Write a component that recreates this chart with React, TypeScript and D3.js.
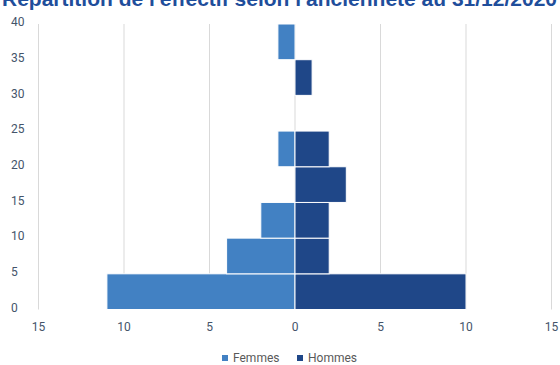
import React from "react";
import * as d3 from "d3";

// Seniority bands (lower bound, years) and headcount per band
const bandStarts = [0, 5, 10, 15, 20, 25, 30, 35];
const femmes = [11, 4, 2, 0, 1, 0, 0, 1];
const hommes = [10, 2, 2, 3, 2, 0, 1, 0];
const yTicks = [0, 5, 10, 15, 20, 25, 30, 35, 40];
const xTicks = [-15, -10, -5, 0, 5, 10, 15];
const seriesNames = ["Femmes", "Hommes"];
const seriesColors = ["#4281c3", "#1f4788"];
const title = "Répartition de l'effectif selon l'ancienneté au 31/12/2020";

const W = 560;
const H = 365;
const tickColor = "#44546a";
const font = "Roboto, 'Liberation Sans', sans-serif";

export default function App() {
  const x = d3.scaleLinear().domain([-15, 15]).range([38.5, 551.5]);
  const y = d3.scaleLinear().domain([0, 40]).range([309.5, 24]);
  const bandW = 5;

  const bars = bandStarts.flatMap((b, i) => [
    { key: `f${i}`, b, v: -femmes[i], color: seriesColors[0] },
    { key: `h${i}`, b, v: hommes[i], color: seriesColors[1] },
  ]).filter((d) => d.v !== 0);

  return (
    <svg
      width={W}
      height={H}
      style={{ position: "absolute", left: 0, top: 0, background: "#fff" }}
    >
      <text
        x={2}
        y={6}
        fontFamily="'Liberation Sans', Arial, sans-serif"
        fontWeight="bold"
        fontSize={21}
        fill="#1f4e9b"
      >
        {title}
      </text>

      {/* vertical gridlines */}
      {xTicks.map((t) => (
        <line
          key={`g${t}`}
          x1={x(t)}
          x2={x(t)}
          y1={y(40)}
          y2={y(0)}
          stroke="#d9d9d9"
          strokeWidth={1}
        />
      ))}

      {/* bars */}
      {bars.map((d) => (
        <rect
          key={d.key}
          x={Math.min(x(0), x(d.v))}
          width={Math.abs(x(d.v) - x(0))}
          y={y(d.b + bandW)}
          height={y(d.b) - y(d.b + bandW)}
          fill={d.color}
          stroke="#ffffff"
          strokeWidth={1}
        />
      ))}

      {/* y labels */}
      {yTicks.map((t) => (
        <text
          key={`y${t}`}
          x={11}
          y={y(t) - 2}
          dy="0.35em"
          fontFamily={font}
          fontSize={12}
          fill={tickColor}
        >
          {t}
        </text>
      ))}

      {/* x labels */}
      {xTicks.map((t) => (
        <text
          key={`x${t}`}
          x={x(t)}
          y={327}
          dy="0.35em"
          textAnchor="middle"
          fontFamily={font}
          fontSize={12}
          fill={tickColor}
        >
          {Math.abs(t)}
        </text>
      ))}

      {/* legend */}
      {seriesNames.map((name, i) => {
        const lx = 222 + i * 75;
        return (
          <g key={name}>
            <rect x={lx} y={355} width={6} height={6} fill={seriesColors[i]} />
            <text
              x={lx + 11}
              y={358}
              dy="0.35em"
              fontFamily={font}
              fontSize={12}
              fill="#595959"
            >
              {name}
            </text>
          </g>
        );
      })}
    </svg>
  );
}
